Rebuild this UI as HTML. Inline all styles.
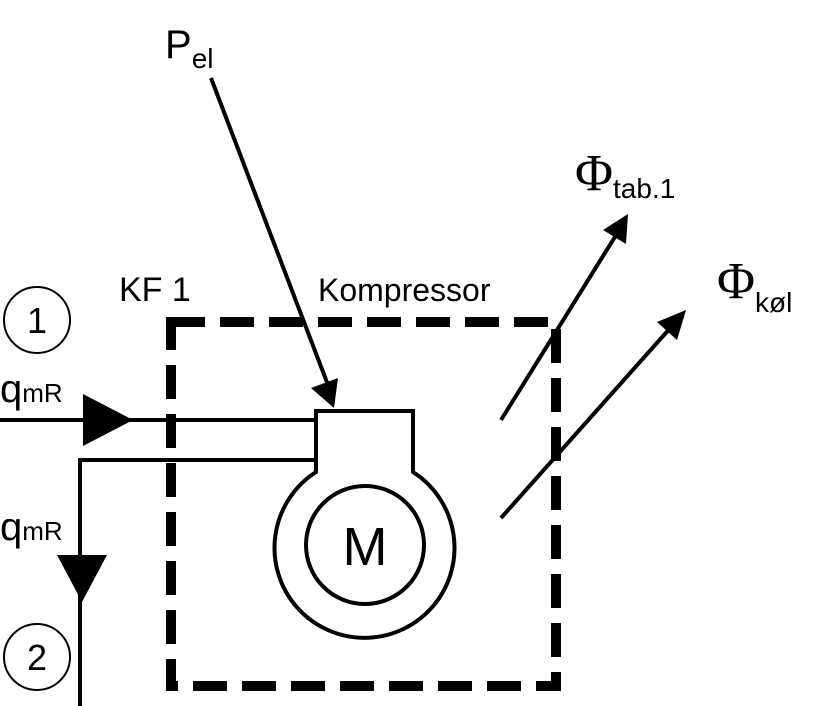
<!DOCTYPE html>
<html><head><meta charset="utf-8"><style>
html,body{margin:0;padding:0;background:#fff;}
svg{display:block;font-family:"Liberation Sans",sans-serif;}
</style></head><body>
<svg width="819" height="706" viewBox="0 0 819 706" xmlns="http://www.w3.org/2000/svg">
<rect width="819" height="706" fill="#fff"/>
<rect x="171" y="322" width="385" height="364" fill="none" stroke="#000" stroke-width="10" stroke-dasharray="34 15"/>
<line x1="0" y1="420" x2="318" y2="420" stroke="#000" stroke-width="4"/>
<line x1="80" y1="460" x2="318" y2="460" stroke="#000" stroke-width="4"/>
<line x1="80" y1="458" x2="80" y2="706" stroke="#000" stroke-width="4"/>
<polygon points="83,394 133,420 83,446" fill="#000"/>
<polygon points="57,555 107,555 82,602" fill="#000"/>
<path d="M316,472 L316,411 L413,411 L413,472 A90,90 0 1 1 316,472 Z" fill="#fff" stroke="#000" stroke-width="4"/>
<circle cx="365" cy="545" r="59" fill="none" stroke="#000" stroke-width="4"/>
<text x="365" y="565" font-size="54" text-anchor="middle">M</text>
<circle cx="37" cy="320" r="33" fill="none" stroke="#000" stroke-width="2"/>
<text x="37" y="333" font-size="36" text-anchor="middle">1</text>
<circle cx="37" cy="657" r="33" fill="none" stroke="#000" stroke-width="2"/>
<text x="37" y="670" font-size="36" text-anchor="middle">2</text>
<text x="0" y="402" font-size="40">q<tspan font-size="26">mR</tspan></text>
<text x="0" y="540" font-size="40">q<tspan font-size="26">mR</tspan></text>
<text x="119" y="301" font-size="34">KF 1</text>
<text x="318" y="301" font-size="32">Kompressor</text>
<text x="165" y="58" font-size="40">P<tspan font-size="28" dy="10">el</tspan></text>
<text x="575" y="190" font-size="52" font-family="Liberation Serif,serif">Φ<tspan font-size="28" dy="8" font-family="Liberation Sans,sans-serif">tab.1</tspan></text>
<text x="717" y="298" font-size="52" font-family="Liberation Serif,serif">Φ<tspan font-size="28" dy="14" font-family="Liberation Sans,sans-serif">køl</tspan></text>
<line x1="211" y1="78" x2="328" y2="385" stroke="#000" stroke-width="4"/>
<polygon points="311,388 338,378 334,408" fill="#000"/>
<line x1="501" y1="420" x2="618" y2="232" stroke="#000" stroke-width="4"/>
<polygon points="603,230 628,214 626,244" fill="#000"/>
<line x1="501" y1="518" x2="672" y2="326" stroke="#000" stroke-width="4"/>
<polygon points="657,322 686,310 677,340" fill="#000"/>
</svg>
</body></html>
